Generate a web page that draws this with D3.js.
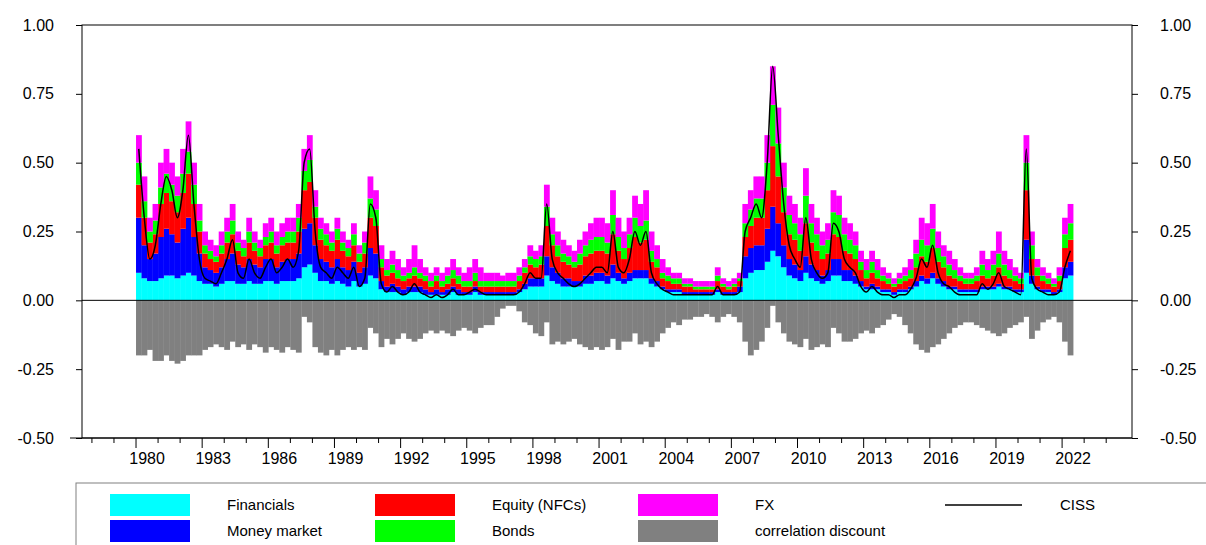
<!DOCTYPE html>
<html>
<head>
<meta charset="utf-8">
<script src="https://cdn.jsdelivr.net/npm/d3@7"></script>
<style>
  body { margin: 0; background: #fff; }
  text { font-family: "Liberation Sans", Arial, sans-serif; }
</style>
</head>
<body>
<svg id="canvas" width="1206" height="545"></svg>
<script>
// quarterly values, 1980Q1 .. 2022Q2
var financials = [
  .10,.08,.07,.07, .08,.09,.09,.08, .09,.10,.09,.07, .06,.06,.05,.06, .07,.07,.06,.06,
  .07,.06,.06,.07, .07,.06,.07,.07, .07,.08,.12,.13, .10,.07,.07,.06, .07,.06,.05,.07,
  .05,.06,.09,.08, .04,.03,.03,.03, .02,.03,.03,.03, .02,.02,.02,.02, .02,.03,.02,.02,
  .02,.03,.02,.02, .02,.02,.02,.02, .02,.03,.04,.05, .05,.05,.09,.07, .06,.05,.05,.05,
  .05,.06,.06,.07, .07,.06,.08,.07, .06,.07,.08,.08, .08,.06,.05,.04, .03,.03,.03,.02,
  .02,.02,.02,.02, .02,.03,.02,.02, .02,.03,.08,.10, .11,.11,.14,.18, .16,.12,.09,.08,
  .07,.10,.08,.07, .06,.07,.09,.09, .07,.07,.06,.05, .04,.04,.04,.03, .03,.02,.03,.03,
  .04,.05,.07,.06, .08,.06,.05,.04, .04,.03,.03,.03, .03,.04,.04,.04, .05,.04,.04,.03,
  .03,.10,.06,.04, .03,.03,.02,.03, .08,.09];
var moneyMarket = [
  .20,.12,.08,.10, .15,.17,.15,.13, .17,.20,.14,.10, .06,.05,.05,.06, .08,.10,.07,.06,
  .08,.07,.06,.08, .08,.06,.07,.08, .08,.09,.14,.15, .10,.08,.07,.06, .08,.06,.06,.07,
  .05,.06,.10,.09, .03,.02,.03,.02, .02,.02,.02,.02, .02,.01,.02,.01, .02,.02,.02,.01,
  .01,.02,.01,.01, .01,.01,.01,.01, .01,.01,.02,.03, .03,.03,.07,.05, .04,.03,.03,.02,
  .02,.03,.03,.03, .03,.03,.05,.03, .02,.03,.03,.03, .03,.02,.02,.01, .01,.01,.01,.01,
  .01,.01,.01,.01, .01,.01,.01,.01, .01,.02,.08,.09, .09,.09,.12,.16, .12,.08,.06,.05,
  .04,.06,.05,.04, .03,.04,.06,.06, .04,.04,.03,.02, .01,.02,.01,.01, .01,.01,.01,.01,
  .01,.02,.02,.02, .02,.02,.02,.01, .01,.01,.01,.01, .01,.01,.01,.01, .01,.01,.01,.01,
  .01,.12,.03,.01, .01,.01,.01,.01, .04,.05];
var equity = [
  .12,.10,.06,.07, .12,.13,.12,.11, .13,.16,.12,.08, .05,.04,.04,.05, .06,.07,.05,.04,
  .06,.05,.04,.05, .06,.05,.06,.06, .06,.08,.14,.15, .10,.07,.06,.06, .07,.06,.05,.06,
  .04,.05,.11,.10, .05,.04,.04,.03, .03,.03,.04,.03, .03,.02,.03,.02, .02,.03,.02,.02,
  .02,.02,.02,.02, .02,.02,.02,.02, .02,.03,.04,.05, .04,.05,.11,.08, .06,.06,.05,.05,
  .06,.07,.08,.08, .08,.08,.11,.08, .07,.09,.12,.10, .11,.06,.05,.03, .03,.02,.02,.02,
  .02,.01,.01,.01, .01,.03,.02,.01, .02,.02,.07,.08, .10,.10,.14,.22, .17,.12,.09,.09,
  .07,.12,.08,.07, .06,.06,.09,.08, .07,.06,.06,.04, .03,.04,.03,.03, .02,.02,.02,.03,
  .03,.05,.07,.06, .09,.06,.05,.04, .03,.03,.02,.02, .03,.04,.03,.04, .06,.04,.03,.03,
  .02,.18,.06,.04, .03,.02,.02,.03, .07,.08];
var bonds = [
  .08,.06,.04,.05, .06,.07,.06,.06, .07,.08,.07,.04, .03,.03,.02,.03, .04,.05,.03,.03,
  .04,.03,.03,.03, .04,.03,.03,.04, .04,.05,.07,.08, .04,.04,.04,.03, .04,.03,.03,.04,
  .03,.04,.07,.06, .03,.02,.03,.03, .02,.02,.03,.02, .02,.02,.02,.02, .03,.03,.03,.02,
  .02,.03,.02,.02, .02,.02,.02,.02, .02,.02,.02,.03, .03,.03,.07,.04, .04,.03,.03,.02,
  .04,.04,.05,.05, .05,.04,.07,.05, .04,.05,.07,.06, .07,.04,.03,.02, .02,.02,.02,.01,
  .01,.01,.01,.01, .01,.02,.01,.01, .01,.01,.05,.06, .07,.07,.10,.15, .12,.09,.07,.06,
  .06,.10,.07,.06, .05,.05,.08,.08, .06,.05,.05,.03, .03,.04,.03,.02, .02,.01,.02,.02,
  .03,.05,.06,.06, .07,.05,.04,.04, .03,.02,.02,.02, .02,.04,.03,.04, .05,.04,.03,.02,
  .02,.10,.05,.03, .02,.02,.01,.02, .05,.06];
var fx = [
  .10,.09,.05,.06, .09,.09,.08,.07, .09,.11,.08,.06, .05,.04,.04,.05, .05,.06,.04,.03,
  .05,.04,.03,.05, .05,.05,.05,.05, .05,.05,.08,.09, .06,.04,.04,.04, .04,.04,.03,.04,
  .03,.04,.08,.07, .05,.04,.05,.04, .03,.05,.08,.05, .03,.03,.03,.03, .03,.04,.03,.03,
  .05,.05,.05,.03, .03,.03,.02,.03, .03,.03,.03,.04, .03,.04,.08,.06, .05,.05,.04,.04,
  .05,.05,.06,.07, .07,.07,.09,.07, .06,.06,.08,.08, .11,.07,.05,.05, .03,.02,.02,.02,
  .02,.02,.02,.02, .02,.03,.02,.02, .02,.02,.07,.07, .08,.08,.10,.14, .13,.09,.07,.07,
  .06,.10,.07,.06, .05,.06,.08,.07, .06,.06,.05,.04, .04,.04,.04,.03, .02,.02,.02,.03,
  .04,.05,.08,.08, .09,.06,.04,.05, .04,.03,.02,.02, .03,.05,.04,.05, .08,.05,.04,.03,
  .02,.10,.05,.03, .03,.02,.02,.03, .06,.07];
var corrDiscount = [
  -.20,-.20,-.18,-.22, -.22,-.20,-.22,-.23, -.22,-.20,-.20,-.20, -.18,-.17,-.16,-.17, -.18,-.15,-.17,-.16,
  -.18,-.16,-.17,-.19, -.17,-.18,-.19,-.17, -.18,-.19,-.06,-.08, -.17,-.19,-.20,-.18, -.20,-.18,-.17,-.18,
  -.17,-.18,-.10,-.12, -.17,-.14,-.16,-.14, -.12,-.14,-.15,-.14, -.12,-.11,-.12,-.11, -.12,-.13,-.11,-.10,
  -.11,-.12,-.10,-.09, -.09,-.06,-.03,-.02, -.02,-.04,-.08,-.09, -.12,-.13,-.08,-.16, -.15,-.16,-.15,-.14,
  -.16,-.17,-.18,-.17, -.18,-.17,-.14,-.18, -.15,-.15,-.12,-.16, -.15,-.17,-.15,-.12, -.10,-.08,-.09,-.07,
  -.07,-.06,-.06,-.05, -.06,-.08,-.06,-.05, -.06,-.08,-.15,-.20, -.18,-.15,-.10,-.02, -.08,-.12,-.15,-.16,
  -.17,-.14,-.18,-.17, -.16,-.17,-.10,-.12, -.15,-.15,-.14,-.12, -.11,-.12,-.10,-.09, -.07,-.05,-.06,-.09,
  -.12,-.16,-.18,-.19, -.17,-.16,-.14,-.12, -.10,-.09,-.08,-.08, -.09,-.10,-.11,-.12, -.13,-.12,-.10,-.09,
  -.08,-.06,-.14,-.11, -.08,-.07,-.06,-.08, -.15,-.20];
var ciss = [
  .55,.30,.15,.20, .35,.45,.40,.30, .40,.60,.35,.15, .08,.07,.06,.10, .15,.22,.10,.08,
  .15,.10,.08,.12, .15,.10,.12,.15, .12,.18,.50,.55, .25,.12,.10,.08, .12,.10,.08,.12,
  .05,.08,.35,.30, .06,.03,.05,.03, .02,.03,.06,.03, .02,.01,.02,.01, .02,.04,.02,.02,
  .03,.04,.03,.02, .02,.02,.02,.02, .02,.03,.06,.10, .08,.08,.35,.15, .10,.08,.06,.05,
  .06,.08,.10,.12, .12,.10,.25,.12, .10,.15,.25,.20, .25,.10,.06,.04, .03,.02,.02,.02,
  .02,.02,.02,.02, .02,.05,.02,.02, .02,.03,.25,.30, .35,.30,.50,.85, .60,.35,.20,.15,
  .12,.30,.15,.10, .08,.10,.28,.25, .15,.12,.10,.05, .03,.05,.03,.02, .02,.01,.02,.02,
  .04,.08,.15,.12, .20,.10,.06,.05, .03,.02,.02,.02, .02,.06,.04,.06, .10,.05,.04,.03,
  .02,.55,.08,.04, .03,.02,.02,.03, .12,.18];
var yTicks = [1, 0.75, 0.5, 0.25, 0, -0.25, -0.5];
var yearLabels = d3.range(1980, 2023, 3);

var svg = d3.select("#canvas");
var plotLeft = 82, plotRight = 1132, plotTop = 25, plotBottom = 438;

var x = d3.scaleLinear().domain([1977.55, 2025.17]).range([plotLeft, plotRight]);
var y = d3.scaleLinear().domain([-0.5, 1]).range([plotBottom, plotTop]);

var quarters = financials.map(function(d, i) { return 1980 + i / 4; });
var bw = x(1980.25) - x(1980);

var keys = ["fin", "mm", "eq", "bd", "fx"];
var colors = {fin: "#00ffff", mm: "#0000ff", eq: "#ff0000", bd: "#00ff00", fx: "#ff00ff"};
var rows = quarters.map(function(q, i) {
    return {t: q, fin: financials[i], mm: moneyMarket[i], eq: equity[i], bd: bonds[i], fx: fx[i]};
});
var stack = d3.stack().keys(keys)(rows);

// plot frame
svg.append("rect")
    .attr("x", plotLeft).attr("y", plotTop)
    .attr("width", plotRight - plotLeft).attr("height", plotBottom - plotTop)
    .attr("fill", "none").attr("stroke", "#000");

stack.forEach(function(layer) {
    svg.append("g").selectAll("rect")
        .data(layer)
        .enter().append("rect")
        .attr("x", function(d) { return x(d.data.t); })
        .attr("width", bw + 0.3)
        .attr("y", function(d) { return y(d[1]); })
        .attr("height", function(d) { return y(d[0]) - y(d[1]); })
        .attr("fill", colors[layer.key]);
});

svg.append("g").selectAll("rect")
    .data(corrDiscount)
    .enter().append("rect")
    .attr("x", function(d, i) { return x(quarters[i]); })
    .attr("width", bw + 0.3)
    .attr("y", y(0))
    .attr("height", function(d) { return y(d) - y(0); })
    .attr("fill", "#808080");

svg.append("path")
    .datum(ciss)
    .attr("fill", "none").attr("stroke", "#000").attr("stroke-width", 1.5)
    .attr("d", d3.line()
        .x(function(d, i) { return x(quarters[i] + 0.125); })
        .y(function(d) { return y(d); })
        .curve(d3.curveMonotoneX));

// zero line
svg.append("line")
    .attr("x1", plotLeft).attr("x2", plotRight)
    .attr("y1", y(0)).attr("y2", y(0))
    .attr("stroke", "#000");

// y axes
var fmt = function(d) { return d3.format(".2f")(d).replace("\u2212", "-"); };
svg.append("g").attr("transform", "translate(" + plotLeft + ",0)")
    .call(d3.axisLeft(y).tickValues(yTicks).tickFormat(fmt).tickSize(6).tickPadding(22))
    .call(function(g) { g.select(".domain").remove(); g.selectAll("text").style("font-size", "16px"); });
svg.append("g").attr("transform", "translate(" + plotRight + ",0)")
    .call(d3.axisRight(y).tickValues(yTicks).tickFormat(fmt).tickSize(6).tickPadding(22))
    .call(function(g) { g.select(".domain").remove(); g.selectAll("text").style("font-size", "16px"); });

// x axis: yearly minor ticks, 3-year majors, labels mid-year
var xg = svg.append("g").attr("transform", "translate(0," + plotBottom + ")");
xg.append("line").attr("x1", 70).attr("x2", plotRight).attr("stroke", "#000");
xg.selectAll(".tk").data(d3.range(1978, 2025))
    .enter().append("line")
    .attr("x1", function(d) { return x(d); }).attr("x2", function(d) { return x(d); })
    .attr("y1", 0).attr("y2", function(d) { return (d - 1980) % 3 === 0 ? 10 : 5; })
    .attr("stroke", "#000");
xg.selectAll("text").data(yearLabels)
    .enter().append("text")
    .attr("x", function(d) { return x(d + 0.5); })
    .attr("y", 26)
    .attr("text-anchor", "middle")
    .style("font-size", "16px")
    .text(function(d) { return d; });

// legend
var lg = svg.append("g");
lg.append("rect").attr("x", 76).attr("y", 483).attr("width", 1140).attr("height", 80)
    .attr("fill", "none").attr("stroke", "#808080");
var legendItems = [
    {name: "Financials", c: colors.fin, col: 0, row: 0},
    {name: "Money market", c: colors.mm, col: 0, row: 1},
    {name: "Equity (NFCs)", c: colors.eq, col: 1, row: 0},
    {name: "Bonds", c: colors.bd, col: 1, row: 1},
    {name: "FX", c: colors.fx, col: 2, row: 0},
    {name: "correlation discount", c: "#808080", col: 2, row: 1}
];
var colX = [110, 375, 638];
legendItems.forEach(function(d) {
    var yy = 494 + d.row * 26;
    lg.append("rect").attr("x", colX[d.col]).attr("y", yy).attr("width", 80).attr("height", 22).attr("fill", d.c);
    lg.append("text").attr("x", colX[d.col] + 117).attr("y", yy + 16).style("font-size", "15px").text(d.name);
});
lg.append("line").attr("x1", 945).attr("x2", 1022).attr("y1", 505).attr("y2", 505).attr("stroke", "#000").attr("stroke-width", 1.5);
lg.append("text").attr("x", 1060).attr("y", 510).style("font-size", "15px").text("CISS");
</script>
</body>
</html>
